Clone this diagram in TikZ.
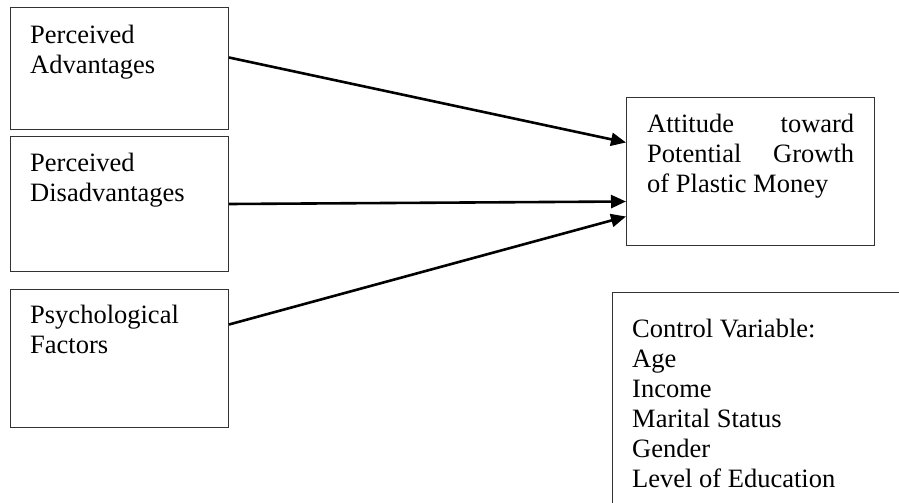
\documentclass[tikz,border=0pt]{standalone}
\usepackage{fontspec}
\setmainfont{Liberation Serif}
\usetikzlibrary{arrows.meta}
\begin{document}
\begin{tikzpicture}[x=1pt,y=-1pt,
  box/.style={draw=black!80,line width=1pt,rectangle,inner sep=0pt,anchor=north west},
  lbl/.style={inner sep=0pt,anchor=north west,align=left,font=\fontsize{26.5}{30}\selectfont},
  arr/.style={line width=2.6pt,-{Triangle[length=15pt,width=13pt]}}]
\useasboundingbox (0,0) rectangle (899,503);
% boxes
\node[box,minimum width=218pt,minimum height=122pt] (b1) at (10,7) {};
\node[box,minimum width=218pt,minimum height=135pt] (b2) at (10,136) {};
\node[box,minimum width=218pt,minimum height=138pt] (b3) at (10,289) {};
\node[box,minimum width=248pt,minimum height=148pt] (out) at (626,97) {};
% texts
\node[lbl] (t1) at (30,24.9) {Perceived\\Advantages};
\node[lbl] (t2) at (30,152.9) {Perceived\\Disadvantages};
\node[lbl] (t3) at (30,304.9) {Psychological\\Factors};
\node[lbl] (t4) at (647,113.9) {\makebox[207pt][l]{Attitude\hfill toward}\\\makebox[207pt][l]{Potential\hfill Growth}\\of Plastic Money};
\node[lbl] (t5) at (632,318.9) {Control Variable:\\Age\\Income\\Marital Status\\Gender\\Level of Education};
% control box (open to the right and bottom)
\coordinate (cv) at (612,292);
\draw[draw=black!80,line width=1pt] (899,292) -- (cv) -- (612,503);
% arrows
\draw[arr] ([yshift=11pt]b1.east) -- ([yshift=29pt]out.west);
\draw[arr] (b2.east) -- ([yshift=-30pt]out.west);
\draw[arr] ([yshift=34pt]b3.east) -- ([yshift=-45pt]out.west);
\end{tikzpicture}
\end{document}
